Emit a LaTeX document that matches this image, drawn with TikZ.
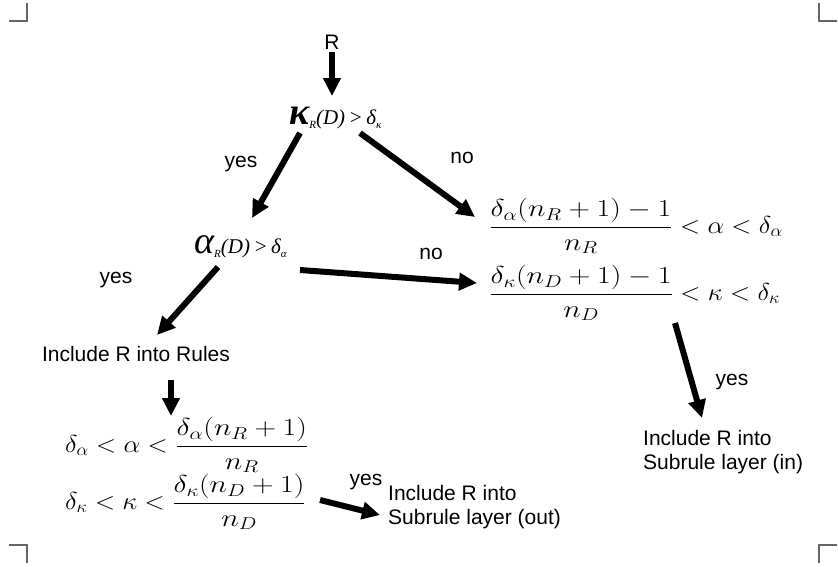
\documentclass[tikz,border=0pt]{standalone}
\usepackage{fix-cm}
\usepackage{graphicx}
\usepackage[no-math]{fontspec}
\setmainfont{Liberation Sans}
\newfontfamily\tms{Liberation Serif}
\usetikzlibrary{arrows.meta}
\newcommand\mfs{\fontsize{24.5}{30}\selectfont}
\newcommand\tfs{\fontsize{21}{24}\selectfont}
\newcommand\sbs[1]{\raisebox{-4pt}{\fontsize{11}{11}\selectfont #1}}
\newcommand\wmath[1]{\scalebox{1.08}[1]{$\displaystyle #1$}}
\newcommand\wfrac[2]{\mathord{\scalebox{1.13}[1]{$\displaystyle\frac{#1}{#2}$}}}
\tikzset{
  lbl/.style={inner sep=0pt, font=\tfs},
  mth/.style={inner sep=0pt, anchor=west, font=\mfs},
  arr/.style={line width=6pt, -{Triangle[length=18pt,width=17pt]}},
  crop/.style={line width=1.5pt, black!60},
}
\begin{document}
\begin{tikzpicture}[x=1pt,y=-1pt]
\useasboundingbox (0,0) rectangle (838,566);
% crop marks
\draw[crop] (9,21) -- (27,21) -- (27,3);
\draw[crop] (819,3) -- (819,21) -- (837,21);
\draw[crop] (9,545) -- (27,545) -- (27,563);
\draw[crop] (819,563) -- (819,545) -- (837,545);
% nodes
\node[lbl] (R) at (332,42) {R};
\node[anchor=base west, inner sep=0pt] (kap) at (289,124)
  {\tms\itshape{\fontsize{38}{38}\selectfont\bfseries κ}\sbs{R}{\fontsize{21}{21}\selectfont (D)\,>\,δ\sbs{κ}}};
\node[lbl] (yes1) at (241,164) {yes};
\node[lbl] (no1) at (462,158) {no};
\node[anchor=base west, inner sep=0pt] (alp) at (194,253)
  {\tms\itshape{\fontsize{38}{38}\selectfont α}\sbs{R}{\fontsize{21}{21}\selectfont (D)\,>\,δ\sbs{α}}};
\node[lbl] (no2) at (431,254) {no};
\node[lbl] (yes2) at (116,280) {yes};
\node[lbl] (incl) at (136,354) {Include R into Rules};
\node[mth] (lf1) at (65,445) {\wmath{\delta_\alpha < \alpha < \wfrac{\delta_\alpha(n_R+1)}{n_R}}};
\node[mth] (lf2) at (65,502) {\wmath{\delta_\kappa < \kappa < \wfrac{\delta_\kappa(n_D+1)}{n_D}}};
\node[mth] (rf1) at (489,226) {\wmath{\wfrac{\delta_\alpha(n_R+1)-1}{n_R} < \alpha < \delta_\alpha}};
\node[mth] (rf2) at (489,293) {\wmath{\wfrac{\delta_\kappa(n_D+1)-1}{n_D} < \kappa < \delta_\kappa}};
\node[lbl] (yes3) at (366,482) {yes};
\node[lbl, anchor=north west, align=left] (out) at (388,485) {Include R into\\Subrule layer (out)};
\node[lbl] (yes4) at (732,382) {yes};
\node[lbl, anchor=north west, align=left] (in) at (643,430) {Include R into\\Subrule layer (in)};
% connector end points
\coordinate (a1s) at (332,52);  \coordinate (a1e) at (332,96);
\coordinate (a2s) at (300,133); \coordinate (a2e) at (252,218);
\coordinate (a3s) at (360,133); \coordinate (a3e) at (475,217);
\coordinate (a4s) at (300,270); \coordinate (a4e) at (477,283);
\coordinate (a5s) at (218,267); \coordinate (a5e) at (157,335);
\coordinate (a6s) at (171,380); \coordinate (a6e) at (171,416);
\coordinate (a7s) at (320,500); \coordinate (a7e) at (380,515);
\coordinate (a8s) at (675,323); \coordinate (a8e) at (702,418);
% connectors
\draw[arr] (a1s) -- (a1e);
\draw[arr] (a2s) -- (a2e);
\draw[arr] (a3s) -- (a3e);
\draw[arr] (a4s) -- (a4e);
\draw[arr] (a5s) -- (a5e);
\draw[arr] (a6s) -- (a6e);
\draw[arr] (a7s) -- (a7e);
\draw[arr] (a8s) -- (a8e);
\end{tikzpicture}
\end{document}
